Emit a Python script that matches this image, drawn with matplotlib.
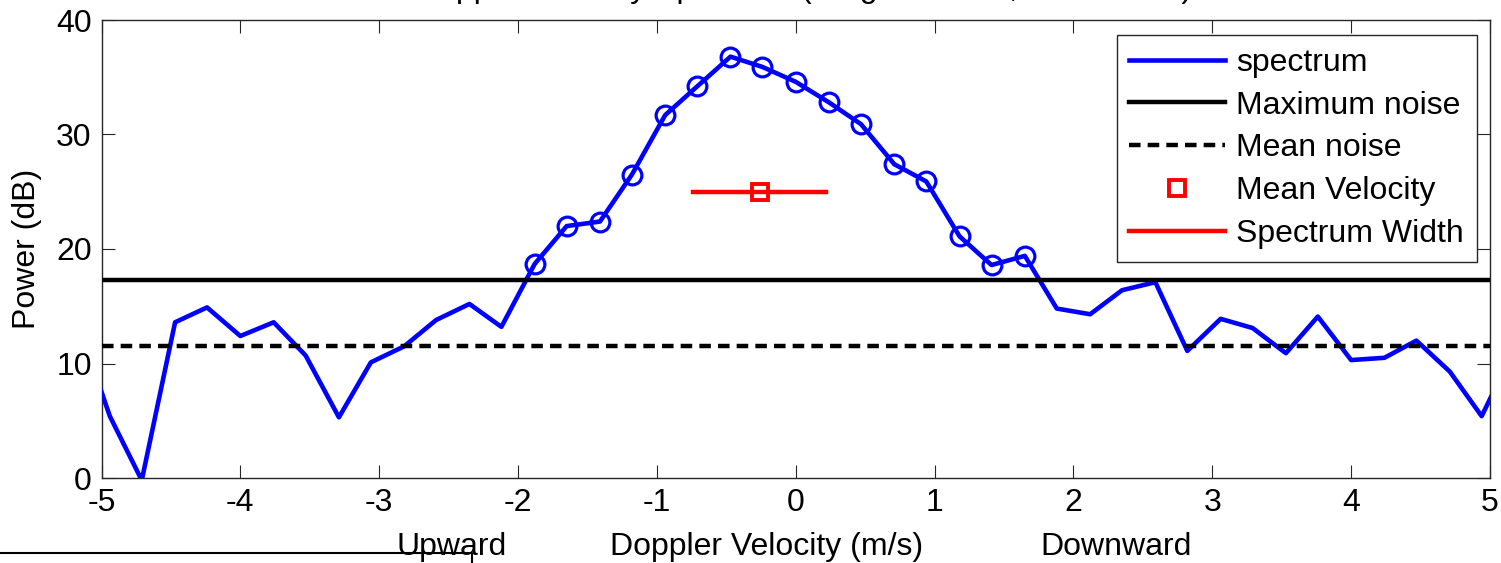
import numpy as np
import matplotlib
matplotlib.use('Agg')
import matplotlib.pyplot as plt
from matplotlib.lines import Line2D

plt.rcParams['font.family'] = ['Liberation Sans', 'DejaVu Sans']
plt.rcParams['axes.unicode_minus'] = False

# --- data ---
velocity = [-5.18, -4.94, -4.71, -4.47, -4.24, -4.00, -3.76, -3.53, -3.29,
            -3.06, -2.82, -2.59, -2.35, -2.12, -1.88, -1.65, -1.41, -1.18,
            -0.94, -0.71, -0.47, -0.24, 0.00, 0.24, 0.47, 0.71, 0.94, 1.18,
            1.41, 1.65, 1.88, 2.12, 2.35, 2.59, 2.82, 3.06, 3.29, 3.53, 3.76,
            4.00, 4.24, 4.47, 4.71, 4.94, 5.18]
power_db = [13.9, 5.4, -0.2, 13.6, 14.9, 12.4, 13.6, 10.7, 5.3,
            10.1, 11.5, 13.8, 15.2, 13.2, 18.7, 22.0, 22.4, 26.5,
            31.7, 34.2, 36.8, 35.9, 34.6, 32.8, 30.9, 27.4, 25.9, 21.1,
            18.6, 19.4, 14.8, 14.3, 16.4, 17.1, 11.1, 13.9, 13.1, 10.9, 14.1,
            10.3, 10.5, 12.0, 9.3, 5.4, 11.4]
max_noise = 17.3
mean_noise = 11.5
mean_velocity = -0.26
spectrum_width = 0.48
marker_level = 25.0

v = np.array(velocity)
p = np.array(power_db)
# signal bins: the contiguous run above the maximum noise around the peak
signal = (v > -2.0) & (v < 1.75)

fig = plt.figure(figsize=(15.01, 5.63), dpi=100)
ax = fig.add_axes([101.5 / 1501, 1 - 478 / 563, (1490 - 101.5) / 1501, 458 / 563])

ax.plot(v, p, color='b', lw=3.3, label='spectrum', zorder=3)
ax.plot(v[signal], p[signal], 'o', color='b', mfc='none', ms=13.5, mew=2.3, zorder=3)
ax.axhline(max_noise, color='k', lw=3.2, label='Maximum noise', zorder=4)
ax.axhline(mean_noise, color='k', lw=3.2, ls=(0, (2.6, 1.6)), label='Mean noise', zorder=4)
ax.plot(mean_velocity, marker_level, 's', color='r', mfc='none', ms=11, mew=2.8,
        ls='none', label='Mean Velocity', zorder=5)
ax.plot([mean_velocity - spectrum_width, mean_velocity + spectrum_width],
        [marker_level, marker_level], color='r', lw=3.2, label='Spectrum Width', zorder=5)

ax.set_xlim(-5, 5)
ax.set_ylim(0, 40)
ax.set_xticks(range(-5, 6))
ax.set_yticks([0, 10, 20, 30, 40])
ax.tick_params(direction='in', length=9.5, width=0.8, top=True, right=True,
               labelsize=23, pad=7, color='0.15')
for s in ax.spines.values():
    s.set_linewidth(1.0)
    s.set_color('0.15')

ax.set_ylabel('Power (dB)', fontsize=23, labelpad=10)

# x label split into three parts like the reference
tr = ax.get_xaxis_transform()
yl = -(555 - 478) / 458
ax.text(-2.48, yl, 'Upward', transform=tr, ha='center', va='baseline', fontsize=23)
ax.text(-0.21, yl, 'Doppler Velocity (m/s)', transform=tr, ha='center', va='baseline', fontsize=23)
ax.text(2.31, yl, 'Downward', transform=tr, ha='center', va='baseline', fontsize=23)

leg = ax.legend(loc='upper right', bbox_to_anchor=((1477 - 101.5) / 1388.5, (478 - 35) / 458),
                borderaxespad=0, fontsize=23, handlelength=3.0, handletextpad=0.35,
                labelspacing=0.4, borderpad=0.4, fancybox=False, framealpha=1,
                edgecolor='0.15')
leg.get_frame().set_linewidth(1.0)

# title, mostly outside the top of the picture
fig.text(415 / 1501, 1 + 3.5 / 563, 'Doppler Velocity Spectrum (Height 1.5 km, 12:00 UTC)',
         ha='left', va='baseline', fontsize=23)

# stray line at the bottom left
fig.add_artist(Line2D([0, 472 / 1501, 472 / 1501], [1 - 553 / 563, 1 - 553 / 563, 0],
                      color='k', lw=1.5, transform=fig.transFigure))

fig.savefig('out.png', dpi=100)
